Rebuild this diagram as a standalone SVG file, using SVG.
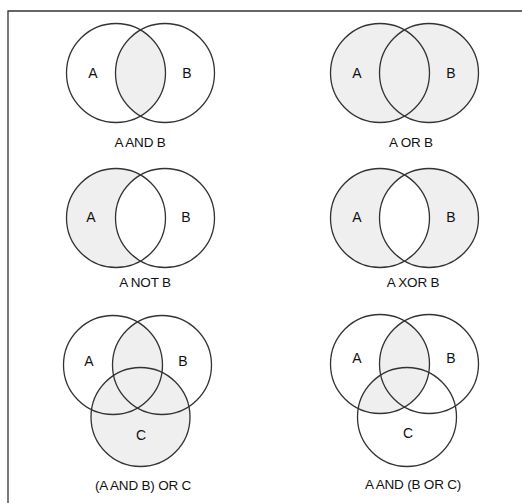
<svg xmlns="http://www.w3.org/2000/svg" xmlns:xlink="http://www.w3.org/1999/xlink" width="522" height="503" viewBox="0 0 522 503">
<style>
.bg{fill:#ffffff}
.frame{fill:none;stroke:#333333;stroke-width:1.3}
.o{fill:none;stroke:#333333;stroke-width:1.3}
.g{fill:#efefef;stroke:none}
.w{fill:#ffffff;stroke:none}
.lbl{font-family:"Liberation Sans",Arial,sans-serif;font-size:14px;fill:#111111;text-anchor:middle}
.cap{font-family:"Liberation Sans",Arial,sans-serif;font-size:13.5px;fill:#111111;text-anchor:middle;letter-spacing:-0.2px}
</style>
<defs>
<clipPath id="clipA"><circle cx="0" cy="0" r="49.5"/></clipPath>
</defs>
<rect class="bg" x="0" y="0" width="522" height="503"/>
<path class="frame" d="M8,503 V11 H522"/>

<g id="and">
<g transform="translate(116,73)">
<circle class="g" cx="49" cy="0" r="49.5" clip-path="url(#clipA)"/>
<circle class="o" cx="0" cy="0" r="49.5"/>
<circle class="o" cx="49" cy="0" r="49.5"/>
</g>
<text class="lbl" x="93" y="78">A</text>
<text class="lbl" x="187" y="78">B</text>
<text class="cap" x="140" y="147">A AND B</text>
</g>

<g id="or">
<g transform="translate(380,73)">
<circle class="g" cx="0" cy="0" r="49.5"/>
<circle class="g" cx="49" cy="0" r="49.5"/>
<circle class="o" cx="0" cy="0" r="49.5"/>
<circle class="o" cx="49" cy="0" r="49.5"/>
</g>
<text class="lbl" x="357" y="78">A</text>
<text class="lbl" x="451" y="78">B</text>
<text class="cap" x="411" y="147">A OR B</text>
</g>

<g id="not">
<g transform="translate(116,218)">
<circle class="g" cx="0" cy="0" r="49.5"/>
<circle class="w" cx="49" cy="0" r="49.5"/>
<circle class="o" cx="0" cy="0" r="49.5"/>
<circle class="o" cx="49" cy="0" r="49.5"/>
</g>
<text class="lbl" x="91" y="222">A</text>
<text class="lbl" x="186" y="222">B</text>
<text class="cap" x="145" y="287">A NOT B</text>
</g>

<g id="xor">
<g transform="translate(380,218)">
<circle class="g" cx="0" cy="0" r="49.5"/>
<circle class="g" cx="49" cy="0" r="49.5"/>
<circle class="w" cx="49" cy="0" r="49.5" clip-path="url(#clipA)"/>
<circle class="o" cx="0" cy="0" r="49.5"/>
<circle class="o" cx="49" cy="0" r="49.5"/>
</g>
<text class="lbl" x="357" y="222">A</text>
<text class="lbl" x="451" y="222">B</text>
<text class="cap" x="413" y="287">A XOR B</text>
</g>

<g id="and-or-c">
<g transform="translate(113,365)">
<circle class="g" cx="27.5" cy="52" r="49.5"/>
<circle class="g" cx="49" cy="0" r="49.5" clip-path="url(#clipA)"/>
<circle class="o" cx="0" cy="0" r="49.5"/>
<circle class="o" cx="49" cy="0" r="49.5"/>
<circle class="o" cx="27.5" cy="52" r="49.5"/>
</g>
<text class="lbl" x="89" y="366">A</text>
<text class="lbl" x="183" y="366">B</text>
<text class="lbl" x="141" y="440">C</text>
<text class="cap" x="143" y="490">(A AND B) OR C</text>
</g>

<g id="and-b-or-c">
<g transform="translate(380,364)">
<circle class="g" cx="49" cy="0" r="49.5" clip-path="url(#clipA)"/>
<circle class="g" cx="27" cy="53" r="49.5" clip-path="url(#clipA)"/>
<circle class="o" cx="0" cy="0" r="49.5"/>
<circle class="o" cx="49" cy="0" r="49.5"/>
<circle class="o" cx="27" cy="53" r="49.5"/>
</g>
<text class="lbl" x="357" y="363">A</text>
<text class="lbl" x="451" y="363">B</text>
<text class="lbl" x="408" y="438">C</text>
<text class="cap" x="413" y="489">A AND (B OR C)</text>
</g>
</svg>
